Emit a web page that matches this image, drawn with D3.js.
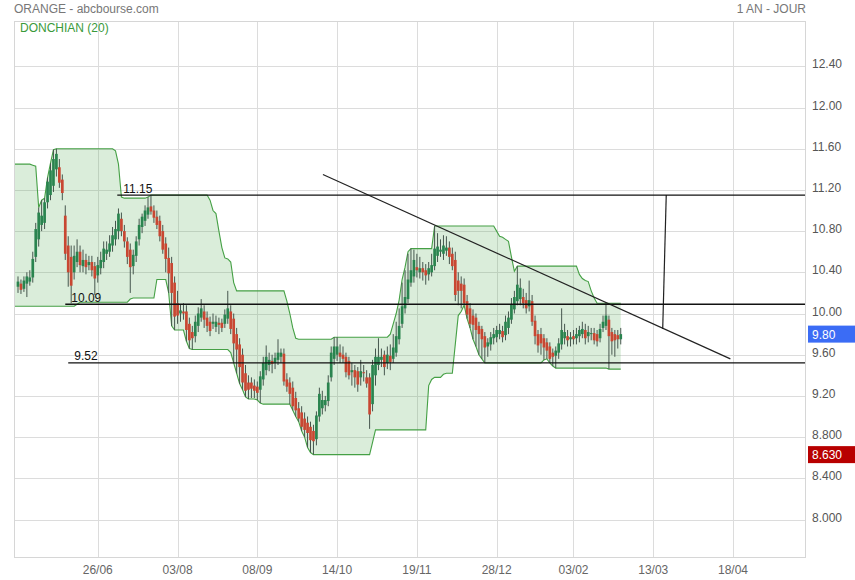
<!DOCTYPE html>
<html><head><meta charset="utf-8">
<script src="https://cdn.jsdelivr.net/npm/d3@7"></script>
<style>
body{margin:0;background:#fff}
svg{display:block;font-family:"Liberation Sans",Arial,sans-serif}
</style>
</head><body>
<svg id="c" width="855" height="580"></svg>
<script>
// ---------- DATA ----------
const opens = [
10.26,10.29,10.24,10.29,10.31,10.35,10.55,10.72,10.86,10.88,
11.08,11.15,11.24,11.40,11.42,11.30,10.95,10.66,10.55,10.40,
10.50,10.60,10.46,10.52,10.47,10.50,10.46,10.37,10.44,10.50,
10.58,10.60,10.66,10.72,10.80,10.92,10.80,10.70,10.62,10.46,
10.56,10.72,10.84,10.90,10.96,11.04,11.00,10.94,10.90,10.80,
10.68,10.54,10.49,10.30,10.10,10.00,10.02,10.02,9.90,9.82,
9.78,9.88,9.96,10.02,9.96,9.92,9.90,9.87,9.91,9.91,
9.90,9.95,10.02,9.95,9.80,9.70,9.60,9.42,9.33,9.33,
9.30,9.29,9.26,9.36,9.45,9.50,9.54,9.52,9.55,9.58,
9.61,9.36,9.33,9.28,9.18,9.08,9.04,8.98,8.94,8.90,
8.86,8.78,9.00,9.08,9.11,9.15,9.38,9.56,9.60,9.62,
9.60,9.58,9.54,9.43,9.45,9.44,9.38,9.43,9.38,9.38,
9.12,9.40,9.50,9.55,9.60,9.52,9.59,9.56,9.62,9.75,
9.90,10.05,10.14,10.30,10.36,10.45,10.40,10.44,10.42,10.38,
10.40,10.46,10.56,10.60,10.58,10.61,10.64,10.58,10.52,10.32,
10.29,10.28,10.12,10.05,9.98,9.96,9.88,9.85,9.78,9.68,
9.70,9.76,9.77,9.80,9.83,9.79,9.86,9.94,10.04,10.12,
10.14,10.16,10.13,10.07,10.12,9.93,9.80,9.80,9.76,9.72,
9.68,9.62,9.59,9.62,9.70,9.76,9.78,9.75,9.78,9.76,
9.78,9.80,9.84,9.78,9.80,9.81,9.80,9.76,9.86,9.88,
9.94,9.82,9.80,9.79,9.75];
const highs = [
10.36,10.33,10.36,10.40,10.42,10.60,10.88,11.03,11.10,11.12,
11.32,11.46,11.59,11.60,11.50,11.35,11.05,10.75,10.66,10.66,
10.72,10.66,10.62,10.58,10.56,10.56,10.50,10.55,10.60,10.70,
10.70,10.76,10.84,10.90,11.02,10.98,10.86,10.74,10.68,10.62,
10.75,10.92,10.97,11.05,11.13,11.15,11.05,11.00,10.95,10.86,
10.74,10.64,10.55,10.36,10.22,10.09,10.10,10.08,9.96,9.88,
9.98,10.06,10.14,10.08,10.02,9.97,10.00,9.98,9.96,9.95,
10.04,10.22,10.08,10.00,9.86,9.76,9.66,9.50,9.40,9.38,
9.36,9.34,9.44,9.58,9.69,9.62,9.60,9.62,9.75,9.66,
9.66,9.42,9.38,9.34,9.24,9.14,9.10,9.04,9.00,8.95,
8.92,9.05,9.28,9.25,9.20,9.40,9.68,9.77,9.77,9.70,
9.68,9.62,9.58,9.52,9.50,9.48,9.55,9.50,9.45,9.42,
9.55,9.66,9.76,9.66,9.64,9.68,9.70,9.80,9.92,10.05,
10.30,10.42,10.58,10.63,10.62,10.58,10.55,10.50,10.48,10.50,
10.58,10.85,10.78,10.72,10.76,10.75,10.70,10.64,10.60,10.40,
10.36,10.34,10.18,10.10,10.04,10.00,9.92,9.88,9.82,9.76,
9.82,9.86,9.88,9.90,9.88,9.98,10.02,10.15,10.22,10.46,
10.34,10.24,10.20,10.32,10.18,9.98,9.84,9.86,9.80,9.76,
9.72,9.66,9.68,9.76,10.05,9.90,9.84,9.82,9.84,9.86,
9.88,9.92,9.90,9.88,9.86,9.86,9.84,9.90,9.98,10.10,
9.98,9.86,9.84,9.84,9.86];
const lows = [
10.20,10.19,10.21,10.16,10.27,10.30,10.50,10.65,10.80,10.82,
11.02,11.10,11.18,11.33,11.22,11.10,10.52,10.26,10.10,10.33,
10.45,10.40,10.40,10.38,10.42,10.36,10.18,10.30,10.38,10.44,
10.52,10.55,10.60,10.66,10.72,10.75,10.64,10.48,10.20,10.38,
10.50,10.66,10.78,10.85,10.92,10.96,10.88,10.82,10.70,10.58,
10.40,10.20,9.88,9.84,9.90,9.92,9.94,9.73,9.66,9.65,
9.72,9.82,9.92,9.86,9.82,9.78,9.85,9.82,9.80,9.82,
9.86,9.90,9.80,9.52,9.42,9.32,9.26,9.19,9.17,9.18,
9.18,9.16,9.13,9.30,9.40,9.44,9.42,9.46,9.50,9.52,
9.30,9.24,9.12,9.06,9.00,8.95,8.86,8.80,8.70,8.65,
8.63,8.72,8.95,9.02,9.05,9.10,9.34,9.50,9.54,9.52,
9.52,9.38,9.36,9.30,9.28,9.24,9.30,9.34,9.28,8.88,
9.05,9.30,9.45,9.48,9.40,9.46,9.45,9.52,9.58,9.70,
9.86,10.00,10.10,10.26,10.30,10.35,10.34,10.32,10.28,10.32,
10.36,10.42,10.50,10.55,10.52,10.56,10.48,10.42,10.12,10.08,
10.05,10.08,9.95,9.86,9.75,9.68,9.60,9.56,9.52,9.58,
9.64,9.70,9.72,9.75,9.72,9.74,9.80,9.90,10.00,10.08,
10.08,10.05,10.00,10.02,9.88,9.70,9.62,9.60,9.55,9.56,
9.52,9.49,9.47,9.56,9.65,9.70,9.68,9.68,9.70,9.70,
9.72,9.76,9.70,9.72,9.74,9.70,9.68,9.72,9.82,9.84,
9.46,9.60,9.58,9.66,9.70];
const closes = [
10.31,10.23,10.32,10.36,10.35,10.53,10.82,10.98,10.95,11.08,
11.28,11.39,11.50,11.55,11.27,11.17,10.58,10.40,10.27,10.56,
10.60,10.47,10.52,10.45,10.50,10.42,10.34,10.47,10.52,10.63,
10.62,10.68,10.76,10.82,10.97,10.80,10.70,10.55,10.45,10.57,
10.70,10.86,10.94,11.00,11.03,10.99,10.93,10.86,10.75,10.62,
10.53,10.39,10.20,9.97,9.98,10.03,10.00,9.84,9.74,9.76,
9.92,10.00,10.05,9.94,9.88,9.83,9.92,9.92,9.89,9.86,
9.99,10.05,9.85,9.71,9.65,9.48,9.33,9.25,9.26,9.27,
9.25,9.23,9.39,9.52,9.58,9.55,9.51,9.57,9.62,9.62,
9.34,9.29,9.22,9.10,9.06,8.98,8.90,8.87,8.84,8.77,
8.76,9.01,9.22,9.16,9.16,9.33,9.62,9.68,9.68,9.58,
9.56,9.43,9.40,9.45,9.38,9.31,9.44,9.42,9.32,9.02,
9.50,9.58,9.58,9.58,9.48,9.60,9.53,9.67,9.78,9.88,
10.07,10.16,10.33,10.42,10.52,10.42,10.44,10.40,10.37,10.44,
10.47,10.63,10.65,10.62,10.66,10.64,10.55,10.46,10.18,10.22,
10.22,10.10,9.99,9.90,9.89,9.84,9.80,9.75,9.67,9.72,
9.77,9.80,9.84,9.84,9.77,9.92,9.96,10.09,10.16,10.28,
10.25,10.10,10.05,10.13,9.92,9.78,9.69,9.71,9.67,9.64,
9.56,9.58,9.64,9.71,9.84,9.82,9.74,9.77,9.75,9.80,
9.84,9.85,9.76,9.82,9.81,9.74,9.73,9.85,9.92,9.98,
9.78,9.73,9.74,9.75,9.80];
const donchianUpper = [
11.45,11.45,11.45,11.45,11.45,11.44,11.43,11.03,11.10,11.12,
11.32,11.46,11.59,11.60,11.60,11.60,11.60,11.60,11.60,11.60,
11.60,11.60,11.60,11.60,11.60,11.60,11.60,11.60,11.60,11.60,
11.60,11.60,11.60,11.58,11.45,11.13,11.12,11.12,11.12,11.12,
11.12,11.12,11.12,11.12,11.13,11.15,11.15,11.15,11.15,11.15,
11.15,11.15,11.15,11.15,11.15,11.15,11.15,11.15,11.15,11.15,
11.15,11.15,11.15,11.15,11.15,11.10,11.00,10.97,10.80,10.64,
10.54,10.53,10.50,10.30,10.22,10.22,10.22,10.22,10.22,10.22,
10.22,10.22,10.22,10.22,10.22,10.22,10.22,10.22,10.22,10.22,
10.22,10.12,10.00,9.86,9.76,9.75,9.75,9.75,9.75,9.75,
9.75,9.75,9.75,9.75,9.75,9.75,9.75,9.77,9.77,9.77,
9.77,9.77,9.77,9.77,9.77,9.77,9.77,9.77,9.77,9.77,
9.77,9.77,9.77,9.77,9.77,9.77,9.80,9.90,10.00,10.13,
10.33,10.45,10.60,10.63,10.63,10.63,10.63,10.63,10.63,10.63,
10.63,10.85,10.85,10.85,10.85,10.85,10.85,10.85,10.85,10.85,
10.85,10.85,10.85,10.85,10.85,10.85,10.85,10.85,10.85,10.85,
10.85,10.85,10.80,10.75,10.74,10.72,10.70,10.55,10.41,10.46,
10.46,10.46,10.46,10.46,10.46,10.46,10.46,10.46,10.46,10.46,
10.46,10.46,10.46,10.46,10.46,10.46,10.46,10.46,10.46,10.46,
10.38,10.34,10.32,10.31,10.22,10.15,10.10,10.10,10.10,10.10,
10.10,10.10,10.10,10.10,10.10];
const donchianLower = [
10.07,10.07,10.07,10.07,10.07,10.07,10.07,10.07,10.07,10.07,
10.07,10.07,10.07,10.07,10.07,10.07,10.07,10.07,10.07,10.07,
10.09,10.11,10.11,10.11,10.11,10.11,10.11,10.11,10.11,10.11,
10.11,10.11,10.11,10.11,10.11,10.11,10.11,10.11,10.14,10.15,
10.15,10.15,10.15,10.15,10.15,10.15,10.15,10.33,10.33,10.33,
10.33,10.20,9.88,9.84,9.84,9.84,9.84,9.73,9.66,9.65,
9.65,9.65,9.65,9.65,9.65,9.65,9.65,9.65,9.65,9.65,
9.65,9.65,9.62,9.52,9.42,9.32,9.26,9.19,9.17,9.17,
9.17,9.16,9.13,9.12,9.12,9.12,9.12,9.12,9.12,9.12,
9.12,9.12,9.12,9.06,9.00,8.95,8.86,8.80,8.70,8.65,
8.63,8.63,8.63,8.63,8.63,8.63,8.63,8.63,8.63,8.63,
8.63,8.63,8.63,8.63,8.63,8.63,8.63,8.63,8.63,8.63,
8.75,8.87,8.87,8.87,8.87,8.87,8.87,8.87,8.87,8.87,
8.87,8.87,8.87,8.87,8.87,8.87,8.87,8.87,8.87,9.30,
9.36,9.38,9.38,9.38,9.41,9.42,9.42,9.42,9.70,9.98,
10.02,10.08,9.95,9.86,9.75,9.68,9.60,9.56,9.52,9.52,
9.52,9.52,9.52,9.52,9.52,9.52,9.52,9.52,9.52,9.52,
9.52,9.52,9.52,9.52,9.52,9.52,9.52,9.52,9.55,9.56,
9.52,9.49,9.47,9.47,9.47,9.47,9.47,9.47,9.47,9.47,
9.47,9.47,9.47,9.47,9.47,9.47,9.47,9.47,9.47,9.47,
9.46,9.46,9.46,9.46,9.46];

const priceTicks = [12.4, 12.0, 11.6, 11.2, 10.8, 10.4, 10.0, 9.6, 9.2, 8.8, 8.4, 8.0];
const priceTickLabels = ["12.40","12.00","11.60","11.20","10.80","10.40","10.00","9.60","9.20","8.800","8.400","8.000"];
const dateTickIndex = [27, 54, 81, 108, 135, 162, 188, 215, 242];
const dateTickLabels = ["26/06","03/08","08/09","14/10","19/11","28/12","03/02","13/03","18/04"];

const levelValues = [11.15, 10.09, 9.52];
const levelLabels = ["11.15", "10.09", "9.52"];
const levelStartIndex = [33.6, 16.0, 17.0];
const trendLine = [[103.2, 11.35], [241.1, 9.56]];
const verticalLine = [[218.2, 9.85], [219.4, 11.15]];
const lastPrice = 9.80, lastPriceLabel = "9.80";
const minPrice = 8.63, minPriceLabel = "8.630";
const title = "ORANGE - abcbourse.com", period = "1 AN - JOUR", indicator = "DONCHIAN (20)";

// ---------- LAYOUT ----------
const W = 855, H = 580;
const L = 14, R = 806, T = 21, B = 557;
const svg = d3.select("#c");
const x = d3.scaleLinear().domain([-1.354, 266.7]).range([L, R]);
const y = d3.scaleLinear().domain([7.636, 12.840]).range([B, T]);

svg.append("defs").append("clipPath").attr("id","clip")
  .append("rect").attr("x",L).attr("y",T).attr("width",R-L).attr("height",B-T);

// grid
const grid = svg.append("g");
grid.selectAll("line.h").data(priceTicks).join("line")
  .attr("x1",L).attr("x2",R).attr("y1",d=>Math.round(y(d))+0.5).attr("y2",d=>Math.round(y(d))+0.5)
  .attr("stroke","#dcdcdc").attr("stroke-width",1);
grid.selectAll("line.v").data(dateTickIndex).join("line")
  .attr("x1",d=>Math.round(x(d))+0.5).attr("x2",d=>Math.round(x(d))+0.5).attr("y1",T).attr("y2",B)
  .attr("stroke","#dcdcdc").attr("stroke-width",1);

const plot = svg.append("g").attr("clip-path","url(#clip)");

// donchian band
const idx = d3.range(donchianUpper.length);
const bandPts = [x.domain()[0]].concat(idx);
const upAt = i => donchianUpper[Math.max(0, Math.ceil(i))];
const loAt = i => donchianLower[Math.max(0, Math.ceil(i))];
plot.append("path").datum(bandPts)
  .attr("d", d3.area().x(i=>x(i)).y0(i=>y(loAt(i))).y1(i=>y(upAt(i))))
  .attr("fill","rgba(70,165,70,0.2)");
plot.append("path").datum(bandPts)
  .attr("d", d3.line().x(i=>x(i)).y(i=>y(upAt(i))))
  .attr("fill","none").attr("stroke","#45a045").attr("stroke-width",1.1);
plot.append("path").datum(bandPts)
  .attr("d", d3.line().x(i=>x(i)).y(i=>y(loAt(i))))
  .attr("fill","none").attr("stroke","#45a045").attr("stroke-width",1.1);

// candles
const cg = plot.append("g");
const bw = 2.7;
idx.forEach(i => {
  const o = opens[i], h = highs[i], l = lows[i], c = closes[i];
  const up = c >= o;
  const cx = x(i);
  cg.append("line")
    .attr("x1",cx).attr("x2",cx)
    .attr("y1",y(Math.max(h,o,c))).attr("y2",y(Math.min(l,o,c)))
    .attr("stroke","#46564e").attr("stroke-width",1);
  const top = y(Math.max(o,c)), bot = y(Math.min(o,c));
  cg.append("rect")
    .attr("x",cx-bw/2).attr("width",bw)
    .attr("y",top).attr("height",Math.max(1,bot-top))
    .attr("fill", up ? "#2a844f" : "#c84732");
});

// level lines
const lv = svg.append("g");
levelValues.forEach((v,k) => {
  lv.append("line").attr("x1",x(levelStartIndex[k])).attr("x2",R)
    .attr("y1",y(v)).attr("y2",y(v)).attr("stroke","#111").attr("stroke-width",1.3);
  lv.append("text").attr("x",x(levelStartIndex[k])+6).attr("y",y(v)-2.5)
    .attr("font-size",12).attr("fill","#111").text(levelLabels[k]);
});
// trend line & vertical line
const ln = d3.line().x(d=>x(d[0])).y(d=>y(d[1]));
plot.append("path").datum(trendLine).attr("d",ln).attr("fill","none").attr("stroke","#222").attr("stroke-width",1.2);
plot.append("path").datum(verticalLine).attr("d",ln).attr("fill","none").attr("stroke","#222").attr("stroke-width",1.2);

// frame
svg.append("rect").attr("x",L+0.5).attr("y",T+0.5).attr("width",R-L-1).attr("height",B-T)
  .attr("fill","none").attr("stroke","#d6d6d6");

// right axis labels
svg.selectAll("text.py").data(priceTicks).join("text")
  .attr("x",812).attr("y",d=>y(d)+2).attr("font-size",12).attr("fill","#555")
  .text((d,k)=>priceTickLabels[k]);

// x axis labels
svg.selectAll("text.dx").data(dateTickIndex).join("text")
  .attr("x",d=>x(d)).attr("y",573.5).attr("text-anchor","middle").attr("font-size",12).attr("fill","#666")
  .text((d,k)=>dateTickLabels[k]);

// price boxes
function box(v, label, col){
  const yc = y(v);
  svg.append("rect").attr("x",808).attr("y",yc-8.5).attr("width",W-808).attr("height",17).attr("fill",col);
  svg.append("text").attr("x",812).attr("y",yc+4.5).attr("font-size",12).attr("fill","#fff").text(label);
}
box(lastPrice, lastPriceLabel, "#3b6cf5");
box(minPrice, minPriceLabel, "#b80000");

// header
svg.append("text").attr("x",14).attr("y",13).attr("font-size",12).attr("fill","#777").text(title);
svg.append("text").attr("x",806).attr("y",13).attr("text-anchor","end").attr("font-size",12).attr("fill","#777").text(period);
svg.append("text").attr("x",20).attr("y",32).attr("font-size",12).attr("fill","#3a9a3a").text(indicator);
</script>
</body></html>
